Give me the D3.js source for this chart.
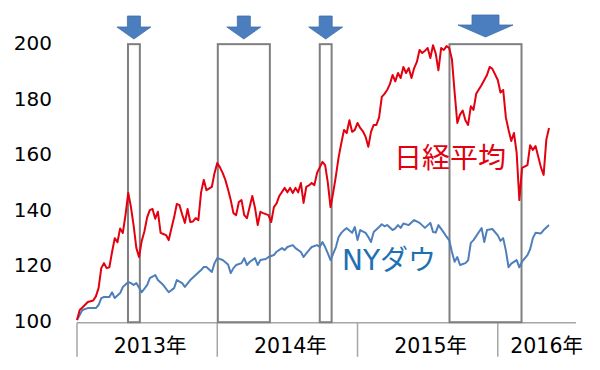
<!DOCTYPE html>
<html>
<head>
<meta charset="utf-8">
<script src="https://cdn.jsdelivr.net/npm/d3@7"></script>
<style>
  body { margin: 0; background: #fff; }
  svg text { font-family: "DejaVu Sans", "Noto Sans CJK JP", sans-serif; }
</style>
</head>
<body>
<div id="chart"></div>
<script>
// [week since start of 2013, index value]
const nikkei = [
  [0,100],[1,103.6],[2,104.5],[4,106.5],[6,107],[7,108.5],[8,111.5],[9,118.7],[10,120.5],
  [11,118.7],[12,119],[13,124.5],[14,129.5],[15,128],[16,133],[17,131.4],[18,138],[19,145.8],
  [20,140.7],[21,134],[22,126],[23,122.7],[24,128.5],[25,132],[26,137],[27,139.6],[28,140],
  [29,136.5],[30,139],[31,131.4],[32,131],[33,130.6],[34,128.8],[35,133],[36,137],[37,141.8],
  [38,141.4],[39,138],[40,135],[41,140],[42,135.3],[43,135.5],[44,136.7],[45,136],[46,146],
  [47,150.5],[48,146.8],[50,148],[51,153],[52,156.6],[53,155],[54,153],[55,150.5],[56,147],
  [57,143.2],[58,138.5],[59,137.8],[60,142.5],[61,143.2],[62,137.8],[63,136.7],[64,140.7],
  [65,144.7],[66,140.4],[67,134.2],[68,139],[69,138.5],[71,137.8],[72,135.3],[73,140.7],
  [74,142],[75,144.7],[77,147.6],[78,146],[79,147.6],[80,145.8],[81,147.6],[82,146],
  [83,149.4],[84,142.2],[85,148],[86,148.5],[87,149.4],[88,148.6],[89,153],[90,155],[91,157],
  [92,155.8],[93,149.4],[94,140.7],[95,146],[96,152],[97,158.7],[98,163.8],[99,168.5],
  [100,167.4],[101,172],[102,167.8],[103,168.5],[104,171],[105,169.2],[106,168],[107,166],
  [108,162.4],[109,167.8],[110,170.3],[111,170.3],[112,173],[113,180.4],[114,181.5],
  [115,182.9],[116,185],[117,188.3],[118,186],[119,189],[120,187.2],[121,191.2],[122,189],
  [123,190.8],[124,187.2],[125,190.8],[126,193],[127,197.3],[128,196.2],[129,197],[130,198],
  [131,194.4],[132,199],[133,196],[134,190],[135,198],[136,197.3],[137,198.7],[138,198],
  [139,194],[140,182],[141,171],[142,174],[143,175.5],[144,172],[145,170.3],[146,177],
  [147,175.7],[148,181.5],[150,184.7],[152,188.3],[153,191.2],[154,190.5],[156,186.5],
  [157,182],[158,182.9],[159,173],[160,168.5],[161,164.5],[162,167.4],[163,160.2],
  [164,143.2],[165,154.8],[167,155.8],[168,163],[169,161.3],[170,162.7],[172,155],
  [173,152.3],[174,165],[175,169.2]
];

const nyDow = [
  [0,100],[1,101.8],[2,103.6],[4,104.3],[7,104.3],[8,105.4],[9,107.9],[10,108.3],[12,108.3],
  [13,110],[14,107.9],[16,109.7],[17,111.9],[19,113.7],[20,113.3],[21,112.6],[22,113.3],
  [24,110],[26,112.6],[27,115.1],[29,116.2],[30,114.4],[32,112.6],[34,110],[36,111.5],
  [37,114.4],[39,113.3],[40,111.9],[42,114.4],[44,116.2],[46,118],[47,119.1],[48,119.1],
  [50,117.3],[51,120.5],[52,122.3],[54,121.6],[56,120],[57,116.9],[58,118.7],[59,119.8],
  [61,120.5],[62,122.3],[63,119.8],[64,120.9],[66,122.3],[67,119.8],[68,121.6],[70,122],
  [71,122.7],[73,123.4],[74,124.6],[76,125.9],[77,125.2],[78,126.3],[80,127],[81,125.9],
  [83,124.5],[84,122.7],[85,124],[86,125.2],[87,126.3],[89,127],[90,126.3],[91,128.1],
  [92,126.3],[93,124],[94,121.6],[96,126.3],[97,129.9],[98,131.4],[99,132.4],[100,133.1],
  [102,131.4],[103,133.5],[104,128.8],[105,132.4],[107,131.4],[108,129.9],[109,128.1],
  [110,131.7],[112,133.5],[113,134.5],[114,133.8],[115,134.2],[117,132.4],[118,133],
  [119,134.2],[120,133.2],[121,134.8],[123,134.2],[125,136],[127,135],[129,133.2],[131,135],
  [132,131.7],[133,131.5],[134,134.2],[136,131.5],[137,130],[138,128.8],[139,124.5],
  [140,121],[141,122.7],[142,119.8],[144,120.5],[145,121.5],[146,127.8],[147,128.8],
  [149,131.7],[150,133.1],[151,128.1],[152,132.4],[154,132.8],[156,130.5],[157,128.5],
  [158,129.5],[159,125],[160,119],[161,120.3],[163,121.6],[164,119],[165,121],[167,123.4],
  [168,125.5],[169,129.5],[170,131.4],[172,131.2],[173,132.4],[175,134.2]
];

// highlighted periods [start week, end week]
const periods = [[18.9, 23.3], [52.2, 71.5], [90, 94.4], [138.1, 164.8]];

const years = ['2013年', '2014年', '2015年', '2016年'];
const yearStarts = [0, 52, 104, 156];
const yTicks = [100, 120, 140, 160, 180, 200];

const width = 600, height = 370;

const x = d3.scaleLinear().domain([0, 185]).range([77, 576]);
const y = d3.scaleLinear().domain([100, 200]).range([320, 42.5]);

const svg = d3.select('#chart').append('svg')
  .attr('width', width)
  .attr('height', height);

// y tick labels (no axis line in the original)
svg.append('g')
  .selectAll('text')
  .data(yTicks)
  .enter().append('text')
  .attr('x', 52)
  .attr('y', d => y(d) + 7.5)
  .attr('text-anchor', 'end')
  .style('font-size', '20px')
  .attr('fill', '#000')
  .text(d => d);

// category axis with year groups
const axisY = y(99);
svg.append('line')
  .attr('x1', x(0)).attr('x2', x(185))
  .attr('y1', axisY).attr('y2', axisY)
  .attr('stroke', '#a6a6a6').attr('stroke-width', 1.5);

svg.append('g')
  .selectAll('line')
  .data(yearStarts)
  .enter().append('line')
  .attr('x1', d => x(d)).attr('x2', d => x(d))
  .attr('y1', axisY).attr('y2', axisY + 34)
  .attr('stroke', '#a6a6a6').attr('stroke-width', 1.5);

svg.append('g')
  .selectAll('text')
  .data(years)
  .enter().append('text')
  .attr('x', (d, i) => {
    const end = i < years.length - 1 ? yearStarts[i + 1] : 190;
    return (x(yearStarts[i]) + x(end)) / 2 + 3;
  })
  .attr('y', axisY + 30)
  .attr('text-anchor', 'middle')
  .style('font-size', '20.5px')
  .attr('fill', '#000')
  .text(d => d);

// period boxes
svg.append('g')
  .selectAll('rect')
  .data(periods)
  .enter().append('rect')
  .attr('x', d => x(d[0]))
  .attr('width', d => x(d[1]) - x(d[0]))
  .attr('y', y(199.4))
  .attr('height', y(99.2) - y(199.4))
  .attr('fill', 'none')
  .attr('stroke', '#7f7f7f')
  .attr('stroke-width', 2);

// arrows above each box
svg.append('g')
  .selectAll('path')
  .data(periods)
  .enter().append('path')
  .attr('d', d => {
    const cx = (x(d[0]) + x(d[1])) / 2;
    const big = d[1] - d[0] > 22;
    const sw = big ? 13.5 : 6.5, hw = big ? 27.5 : 17;
    const top = big ? 15 : 16, mid = big ? 25 : 27, tip = big ? 37 : 39;
    return 'M' + (cx - sw) + ',' + top + 'H' + (cx + sw) + 'V' + mid + 'H' + (cx + hw) +
      'L' + cx + ',' + tip + 'L' + (cx - hw) + ',' + mid + 'H' + (cx - sw) + 'Z';
  })
  .attr('fill', '#4a7ebf')
  .attr('stroke', '#3f6fa8')
  .attr('stroke-width', 0.8);

const line = d3.line()
  .x(d => x(d[0]))
  .y(d => y(d[1]));

svg.append('path')
  .datum(nyDow)
  .attr('d', line)
  .attr('fill', 'none')
  .attr('stroke', '#4f7fbb')
  .attr('stroke-width', 2)
  .attr('stroke-linejoin', 'round');

svg.append('path')
  .datum(nikkei)
  .attr('d', line)
  .attr('fill', 'none')
  .attr('stroke', '#e3000f')
  .attr('stroke-width', 2)
  .attr('stroke-linejoin', 'round');

// series labels
svg.append('text')
  .attr('x', 394).attr('y', 168)
  .style('font-size', '28px')
  .attr('fill', '#e3000f')
  .text('日経平均');

svg.append('text')
  .attr('x', 342).attr('y', 270)
  .style('font-size', '28px')
  .attr('fill', '#1f6fb3')
  .text('NYダウ');
</script>
</body>
</html>
